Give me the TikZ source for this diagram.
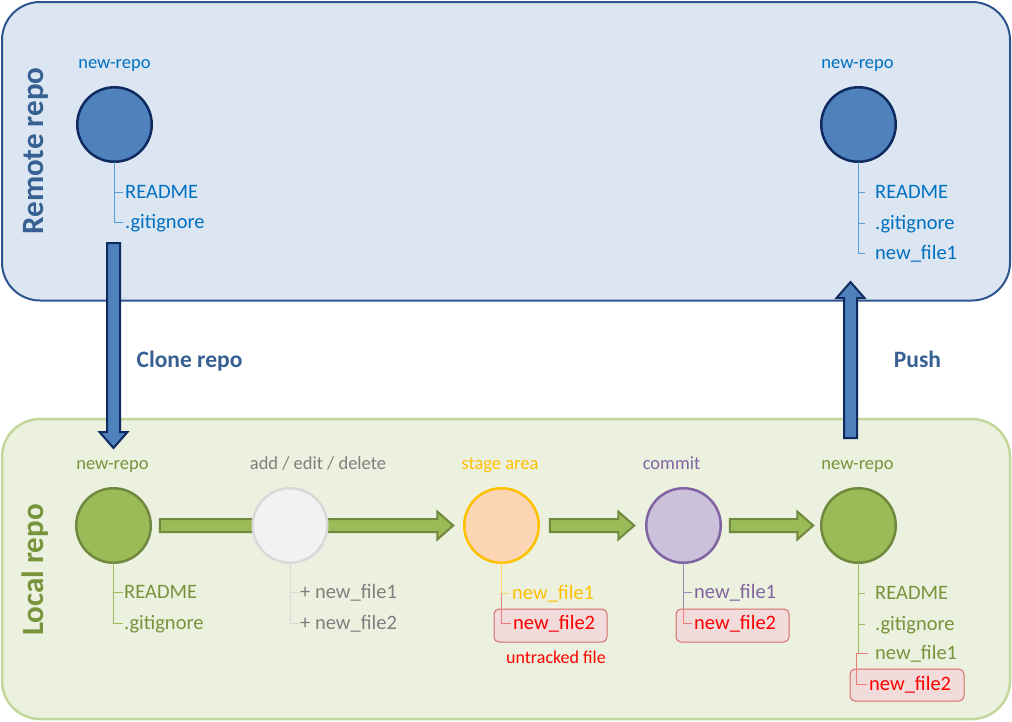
\documentclass[tikz,border=0pt]{standalone}
\usepackage{fontspec}
\setmainfont{Carlito}
\usetikzlibrary{calc}

\definecolor{remotefill}{HTML}{DCE6F2}
\definecolor{remoteline}{HTML}{2E5490}
\definecolor{localfill}{HTML}{EBF1DE}
\definecolor{localline}{HTML}{C3D69B}
\definecolor{bluefill}{HTML}{4F81BD}
\definecolor{navy}{HTML}{0F2A5E}
\definecolor{bluetext}{HTML}{0070C0}
\definecolor{blueline}{HTML}{5B9BD5}
\definecolor{titleblue}{HTML}{376092}
\definecolor{greenfill}{HTML}{9BBB59}
\definecolor{greenline}{HTML}{71893F}
\definecolor{greentext}{HTML}{77933C}
\definecolor{grayfill}{HTML}{F2F2F2}
\definecolor{grayline}{HTML}{D9D9D9}
\definecolor{graytext}{HTML}{7F7F7F}
\definecolor{peachfill}{HTML}{FCD5B5}
\definecolor{stageline}{HTML}{FFC000}
\definecolor{stagetree}{HTML}{FFD966}
\definecolor{commitfill}{HTML}{CCC1DA}
\definecolor{commitline}{HTML}{8064A2}
\definecolor{committree}{HTML}{9D8AB8}
\definecolor{redtext}{HTML}{FF0000}
\definecolor{redfill}{HTML}{F2DCDB}
\definecolor{redbox}{HTML}{D86A6A}
\definecolor{redtree}{HTML}{EF7B7B}

\pgfdeclarelayer{bg}
\pgfdeclarelayer{mid}
\pgfsetlayers{bg,mid,main}

% block arrow from #2 to the tip #3
\newcommand{\blockarrow}[3][]{%
  \draw[#1] ($(#2)!6.5pt!90:(#3)$) -- ($($(#3)!16pt!(#2)$)!6.5pt!-90:(#2)$)
    -- ($($(#3)!16pt!(#2)$)!14pt!-90:(#2)$) -- (#3)
    -- ($($(#3)!16pt!(#2)$)!14pt!90:(#2)$) -- ($($(#3)!16pt!(#2)$)!6.5pt!90:(#2)$)
    -- ($(#2)!6.5pt!-90:(#3)$) -- cycle;}

\tikzset{
  repo/.style={circle, minimum size=74.5, inner sep=0, outer sep=0, line width=2.5},
  lbl/.style={anchor=base, inner sep=0, font=\fontsize{18.5}{20}\selectfont},
  file/.style={anchor=west, inner sep=0, text height=15, text depth=3, font=\fontsize{20.5}{22}\selectfont},
  tree/.style={line width=1},
  redbox/.style={draw=redbox, fill=redfill, line width=1, rounded corners=5, inner sep=0, minimum width=113, minimum height=33},
  bluearrow/.style={fill=bluefill, draw=navy, line width=2},
  greenarrow/.style={fill=greenfill, draw=greenline, line width=2},
  title/.style={rotate=90, anchor=base, inner sep=0, font=\fontsize{31}{33}\selectfont\bfseries},
  step label/.style={anchor=base, inner sep=0, text=titleblue, font=\fontsize{23.5}{25}\selectfont\bfseries}
}

\begin{document}
\begin{tikzpicture}[x=1pt,y=-1pt]
\useasboundingbox (0,0) rectangle (1012,721);

%Shape: Rounded Rectangle [remote]
\begin{pgfonlayer}{bg}
\draw [fill=remotefill, draw=remoteline, line width=2, rounded corners=38] (2,2) rectangle (1010,300.5);
\draw [fill=localfill, draw=localline, line width=2.5, rounded corners=38] (2,419) rectangle (1010,719);
\end{pgfonlayer}
\node [title, text=titleblue] (remotetitle) at (43,151) {Remote repo};
\node [title, text=greentext] (localtitle) at (43,570) {Local repo};

%Shape: Circle [repos]
\node [repo, fill=bluefill, draw=navy] (r1) at (114.5,124.5) {};
\node [repo, fill=bluefill, draw=navy] (r2) at (858.5,124.5) {};
\node [repo, fill=greenfill, draw=greenline] (l1) at (113.5,525.5) {};
\node [repo, fill=grayfill, draw=grayline] (ed) at (290,525.5) {};
\node [repo, fill=peachfill, draw=stageline] (st) at (501.5,525.5) {};
\node [repo, fill=commitfill, draw=commitline] (cm) at (683.5,525.5) {};
\node [repo, fill=greenfill, draw=greenline] (l5) at (858.5,525.5) {};

% Text Node
\node [lbl, text=bluetext] (r1lab) at (114.5,68) {new-repo};
\node [lbl, text=bluetext] (r2lab) at (857.5,68) {new-repo};
\node [lbl, text=greentext] (l1lab) at (112.5,469) {new-repo};
\node [lbl, text=graytext] (edlab) at (318,469) {add / edit / delete};
\node [lbl, text=stageline] (stlab) at (500,469) {stage area};
\node [lbl, text=commitline] (cmlab) at (671.5,469) {commit};
\node [lbl, text=greentext] (l5lab) at (857.5,469) {new-repo};

%Shape: Rounded Rectangle [untracked]
\node [redbox] (stbox) at (550.5,625.5) {};
\node [redbox] (cmbox) at (732.5,625.5) {};
\node [redbox, minimum width=114, minimum height=32] (l5box) at (907,685) {};

% Text Node [files]
\node [file, text=bluetext] (r1a) at (125,192) {README};
\node [file, text=bluetext] (r1b) at (125,222) {.gitignore};
\node [file, text=bluetext] (r2a) at (875,192) {README};
\node [file, text=bluetext] (r2b) at (875,223) {.gitignore};
\node [file, text=bluetext] (r2c) at (875,253) {new\_file1};
\node [file, text=greentext] (l1a) at (124,592) {README};
\node [file, text=greentext] (l1b) at (124,623) {.gitignore};
\node [file, text=graytext] (eda) at (300,592) {+ new\_file1};
\node [file, text=graytext] (edb) at (300,623) {+ new\_file2};
\node [file, text=stageline] (st1) at (512,593) {new\_file1};
\node [file, text=redtext] (st2) at (513,623) {new\_file2};
\node [file, text=commitline] (cm1) at (694,592) {new\_file1};
\node [file, text=redtext] (cm2) at (694,623) {new\_file2};
\node [file, text=greentext] (l5a) at (875,593) {README};
\node [file, text=greentext] (l5b) at (875,624) {.gitignore};
\node [file, text=greentext] (l5c) at (875,653) {new\_file1};
\node [file, text=redtext] (l5d) at (869,684) {new\_file2};
\node [anchor=base, inner sep=0, text=redtext, font=\fontsize{18}{20}\selectfont] (untracked) at (556,663) {untracked file};

\node [step label] (clonelab) at (189.5,367) {Clone repo};
\node [step label] (pushlab) at (917.5,367) {Push};

%Straight Lines [trees]
\draw [tree, blueline, shorten >=2] (r1.south) |- (r1a.west);
\draw [tree, blueline, shorten >=2] (r1.south) |- (r1b.west);
\draw [tree, blueline, shorten >=10] (r2.south) |- (r2a.west);
\draw [tree, blueline, shorten >=10] (r2.south) |- (r2b.west);
\draw [tree, blueline, shorten >=10] (r2.south) |- (r2c.west);
\draw [tree, greenfill, shorten >=1] (l1.south) |- (l1a.west);
\draw [tree, greenfill, shorten >=1] (l1.south) |- (l1b.west);
\draw [tree, grayline, shorten >=1] (ed.south) |- (eda.west);
\draw [tree, grayline, shorten >=1] (ed.south) |- (edb.west);
\draw [tree, stagetree, shorten >=2] (st.south) |- (st1.west);
\draw [tree, redtree, shorten >=2] (st.south |- st1.west) |- (st2.west);
\draw [tree, committree, shorten >=2] (cm.south) |- (cm1.west);
\draw [tree, committree] (cm.south) -- (cm.south |- cmbox.north);
\draw [tree, redtree, shorten >=2] (cm.south |- cmbox.north) |- (cm2.west);
\draw [tree, greenfill, shorten >=10] (l5.south) |- (l5a.west);
\draw [tree, greenfill, shorten >=10] (l5.south) |- (l5b.west);
\draw [tree, greenfill, shorten >=10] (l5.south) |- (l5c.west);
\draw [tree, redtree, shorten >=2] ([xshift=-7]l5c.west) -- ([xshift=-2]l5.south |- l5c.west) |- (l5d.west);

%Block Arrows
\coordinate (clonetop) at (113.5,243);
\coordinate (clonetip) at (113.5,448);
\coordinate (pushfoot) at (850.5,438);
\coordinate (pushtip) at (850.5,282);
\coordinate (g1a) at ([xshift=9]l1.east);
\coordinate (g1b) at ([xshift=-11]st.west);
\coordinate (g2a) at ([xshift=11]st.east);
\coordinate (g2b) at ([xshift=-12]cm.west);
\coordinate (g3a) at ([xshift=9]cm.east);
\coordinate (g3b) at ([xshift=-8]l5.west);
\begin{pgfonlayer}{mid}
\blockarrow[bluearrow]{clonetop}{clonetip}
\blockarrow[bluearrow]{pushfoot}{pushtip}
\blockarrow[greenarrow]{g1a}{g1b}
\blockarrow[greenarrow]{g2a}{g2b}
\blockarrow[greenarrow]{g3a}{g3b}
\end{pgfonlayer}
\end{tikzpicture}
\end{document}
